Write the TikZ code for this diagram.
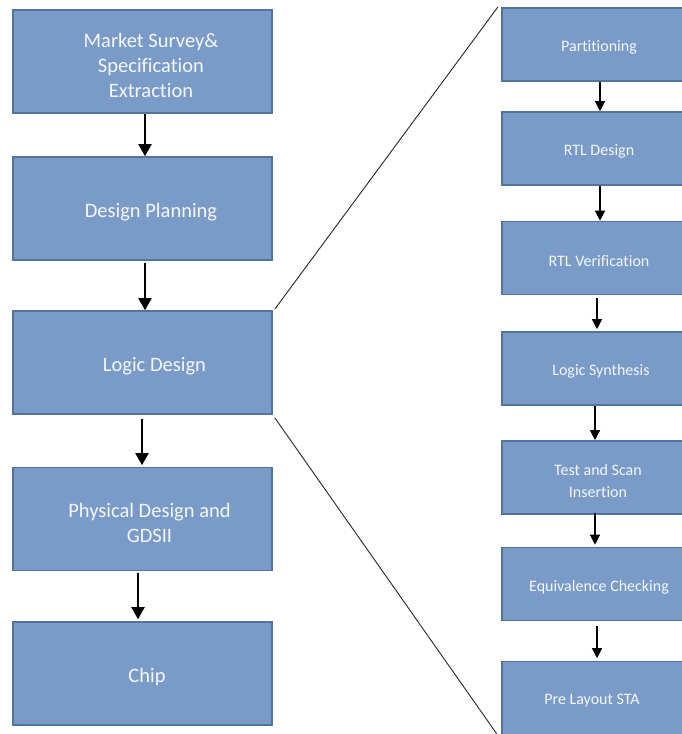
\documentclass[tikz,border=0pt]{standalone}
\usepackage{fontspec}
\setmainfont[Ligatures=NoCommon]{Carlito}
\usetikzlibrary{arrows.meta}
\definecolor{boxfill}{RGB}{122,155,200}
\definecolor{boxline}{RGB}{84,114,158}
\definecolor{boxtext}{RGB}{244,247,251}
\begin{document}
\begin{tikzpicture}[x=1pt,y=-1pt,
  stage/.style={draw=boxline,line width=1.6pt,fill=boxfill,rectangle,
    minimum width=259pt,minimum height=103pt,inner sep=0pt},
  substage/.style={draw=boxline,line width=1.6pt,fill=boxfill,rectangle,
    minimum width=194pt,minimum height=73pt,inner sep=0pt},
  stagetext/.style={text=boxtext,align=center,inner sep=0pt,yshift=-3.5pt,
    font=\fontsize{20.5}{25}\selectfont},
  subtext/.style={text=boxtext,align=center,inner sep=0pt,yshift=-3pt,
    font=\fontsize{16}{22}\selectfont},
  bigflow/.style={line width=2pt,-{Triangle[width=13pt,length=12pt]}},
  smallflow/.style={line width=1.3pt,-{Triangle[width=10pt,length=10pt]}},
  zoomline/.style={line width=0.9pt,draw=black!85}]
\useasboundingbox (0,0) rectangle (682,734);
\clip (0,0) rectangle (682,734);
\fill[white] (0,0) rectangle (682,734);

% main flow
\node[stage] (b1) at (142.5,61.5) {};
\node[stage] (b2) at (142.5,208.5) {};
\node[stage] (b3) at (142.5,362.5) {};
\node[stage] (b4) at (142.5,519) {};
\node[stage] (b5) at (142.5,673.5) {};
\node[stagetext] (t1) at ([xshift=8.5]b1.center) {Market Survey\&\\Specification\\Extraction};
\node[stagetext] (t2) at ([xshift=8.5]b2.center) {Design Planning};
\node[stagetext] (t3) at ([xshift=12]b3.center) {Logic Design};
\node[stagetext] (t4) at ([xshift=7]b4.center) {Physical Design and\\GDSII};
\node[stagetext] (t5) at ([xshift=4.5]b5.center) {Chip};

% (yshift is in points: negative moves down the page)
\draw[bigflow] ([xshift=2.5]b1.south) -- ([xshift=2.5]b2.north);
\draw[bigflow] ([xshift=2.5,yshift=-2]b2.south) -- ([xshift=2.5]b3.north);
\draw[bigflow] ([xshift=-0.5,yshift=-4]b3.south) -- ([xshift=-0.5,yshift=1.5]b4.north);
\draw[bigflow] ([xshift=-4.5,yshift=-1.5]b4.south) -- ([xshift=-4.5,yshift=2]b5.north);

% logic design steps
\node[substage] (r1) at (599,44.5) {};
\node[substage] (r2) at (599,148.5) {};
\node[substage] (r3) at (599,258) {};
\node[substage] (r4) at (599,368.5) {};
\node[substage] (r5) at (599,477.5) {};
\node[substage] (r6) at (599,584) {};
\node[substage] (r7) at (599,698) {};
\node[subtext] (s1) at (r1.center) {Partitioning};
\node[subtext] (s2) at (r2.center) {RTL Design};
\node[subtext] (s3) at (r3.center) {RTL Verification};
\node[subtext] (s4) at ([xshift=2]r4.center) {Logic Synthesis};
\node[subtext] (s5) at ([xshift=-1]r5.center) {Test and Scan\\Insertion};
\node[subtext] (s6) at (r6.center) {Equivalence Checking};
\node[subtext] (s7) at ([xshift=-7]r7.center) {Pre Layout STA};

\draw[smallflow] ([xshift=1]r1.south) -- ([xshift=1]r2.north);
\draw[smallflow] ([xshift=1]r2.south) -- ([xshift=1]r3.north);
\draw[smallflow] ([xshift=-2,yshift=-2.5]r3.south) -- ([xshift=-2,yshift=2]r4.north);
\draw[smallflow] ([xshift=-4]r4.south) -- ([xshift=-4]r5.north);
\draw[smallflow] ([xshift=-4,yshift=2]r5.south) -- ([xshift=-4,yshift=2]r6.north);
\draw[smallflow] ([xshift=-2,yshift=-4.5]r6.south) -- ([xshift=-2,yshift=2.5]r7.north);

% zoom-out lines
\draw[zoomline] ([xshift=2,yshift=1]b3.north east) -- ([xshift=-3.5]r1.north west);
\draw[zoomline] ([xshift=2,yshift=-3]b3.south east) -- ([xshift=-4.5,yshift=1.5]r7.south west);
\end{tikzpicture}
\end{document}
